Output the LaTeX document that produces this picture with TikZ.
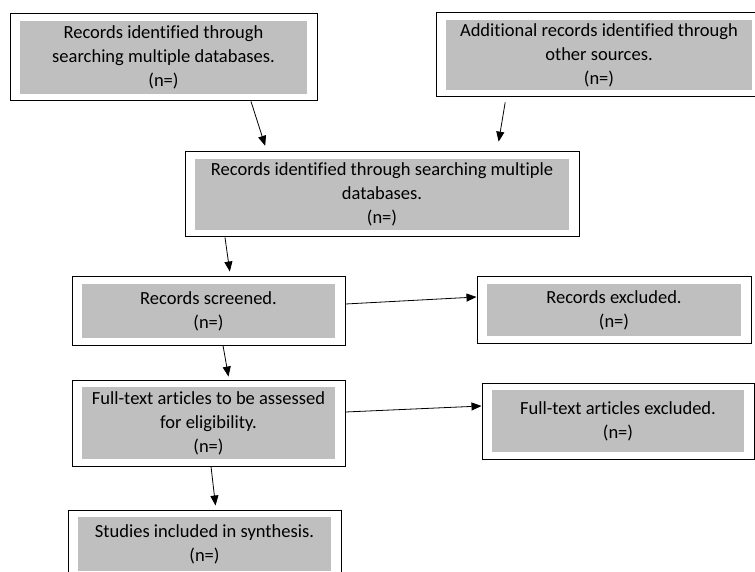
\documentclass[tikz,border=0pt]{standalone}
\usepackage{fontspec}
\setmainfont{Carlito}[Ligatures={NoCommon}]
\usetikzlibrary{arrows.meta}
\definecolor{boxgrey}{RGB}{191,191,191}

\begin{document}
\begin{tikzpicture}[x=1pt, y=1pt,
  box/.style={draw, line width=1pt, rectangle, inner sep=0pt, align=center,
    font=\fontsize{18.5}{24}\selectfont,
    path picture={\fill[boxgrey] ([shift={(10pt,7pt)}]path picture bounding box.south west)
      rectangle ([shift={(-10pt,-7pt)}]path picture bounding box.north east);}},
  link/.style={-{Triangle[length=10pt,width=8pt]}, line width=0.8pt}]

\clip (0,0) rectangle (755,571);

% nodes (manual positions for clearer layout)
\node[box, minimum width=307pt, minimum height=87pt] (search) at (163.5,513.5)
  {Records identified through\\searching multiple databases.\\(n=)};
\node[box, minimum width=326pt, minimum height=84pt] (other) at (599,516)
  {Additional records identified through\\other sources.\\(n=)};
\node[box, minimum width=394pt, minimum height=85pt] (merged) at (382,376.5)
  {Records identified through searching multiple\\databases.\\(n=)};
\node[box, minimum width=273pt, minimum height=68pt] (screened) at (208.5,260)
  {Records screened.\\(n=)};
\node[box, minimum width=274pt, minimum height=66pt] (excluded) at (614,261)
  {Records excluded.\\(n=)};
\node[box, minimum width=273pt, minimum height=86pt] (fulltext) at (208.5,148)
  {Full-text articles to be assessed\\for eligibility.\\(n=)};
\node[box, minimum width=272pt, minimum height=76pt] (ftexcluded) at (618,150)
  {Full-text articles excluded.\\(n=)};
\node[box, minimum width=273pt, minimum height=68pt] (included) at (204.5,27)
  {Studies included in synthesis.\\(n=)};

% edges
\draw[link, shorten >=6pt] ([xshift=87.5pt]search.south) -- ([xshift=-115pt]merged.north);
\draw[link, shorten <=5pt, shorten >=10pt] ([xshift=-93pt]other.south) -- ([xshift=115pt]merged.north);
\draw[link, shorten >=5pt] ([xshift=-157pt]merged.south) -- ([xshift=22pt]screened.north);
\draw[link, shorten >=3pt] ([xshift=14.5pt]screened.south) -- ([xshift=20.5pt]fulltext.north);
\draw[link, shorten >=4pt] ([xshift=2.5pt]fulltext.south) -- ([xshift=11.5pt]included.north);
\draw[link] ([yshift=7pt]screened.east) -- ([yshift=13pt]excluded.west);
\draw[link] ([yshift=11pt]fulltext.east) -- ([yshift=15pt]ftexcluded.west);

\end{tikzpicture}
\end{document}
